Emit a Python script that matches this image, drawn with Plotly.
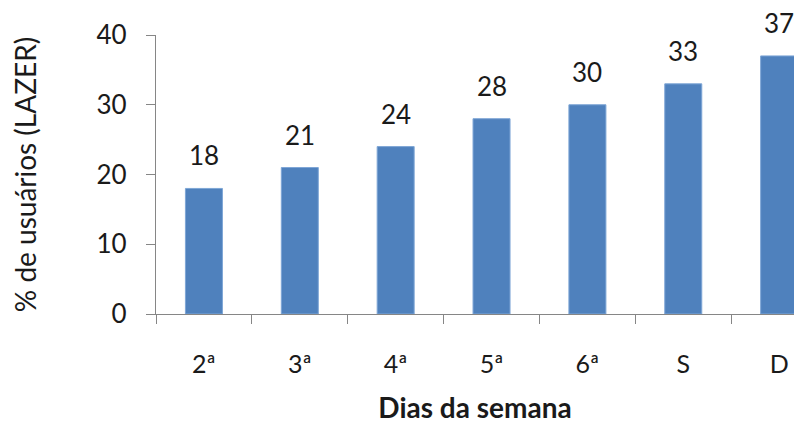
import plotly.graph_objects as go

dias = ["2ª", "3ª", "4ª", "5ª", "6ª", "S", "D"]
lazer = [18, 21, 24, 28, 30, 33, 37]
y_ticks = [0, 10, 20, 30, 40]

FONT = "Lato, 'Open Sans', sans-serif"
TXT = "#1a1a1a"
AX = "#868686"

fig = go.Figure(go.Bar(
    x=dias, y=lazer,
    marker=dict(color="#4F81BD", line=dict(color="#7EA6D6", width=1)),
    width=0.386,
    hoverinfo="skip",
))

for d, v in zip(dias, lazer):
    fig.add_annotation(x=d, y=v, text=str(v), showarrow=False,
                       yanchor="bottom", yshift=15,
                       font=dict(family=FONT, size=26, color=TXT))

fig.update_layout(
    width=794, height=427,
    margin=dict(l=156, r=0, t=35, b=113),
    paper_bgcolor="white", plot_bgcolor="white",
    showlegend=False,
    font=dict(family=FONT, color=TXT),
)
fig.update_xaxes(
    type="category", range=[-0.5, 6.155],
    showline=True, linecolor=AX, linewidth=1.3,
    ticks="outside", tickson="boundaries", ticklen=9, tickcolor=AX, tickwidth=1.3,
    showgrid=False, zeroline=False, automargin=False,
    tickfont=dict(family=FONT, size=25, color=TXT),
    ticklabelstandoff=28,
    title=dict(text="<b>Dias da semana</b>", font=dict(family=FONT, size=28, color=TXT), standoff=21),
)
fig.update_yaxes(
    range=[0, 40], tickvals=y_ticks,
    showline=True, linecolor=AX, linewidth=1.3,
    ticks="outside", ticklen=9, tickcolor=AX, tickwidth=1.3,
    showgrid=False, zeroline=False, automargin=False,
    tickfont=dict(family=FONT, size=26, color=TXT),
    ticklabelstandoff=14,
    title=dict(text="% de usuários (LAZER)", font=dict(family=FONT, size=28, color=TXT), standoff=51),
)

fig.write_html("out.html")
